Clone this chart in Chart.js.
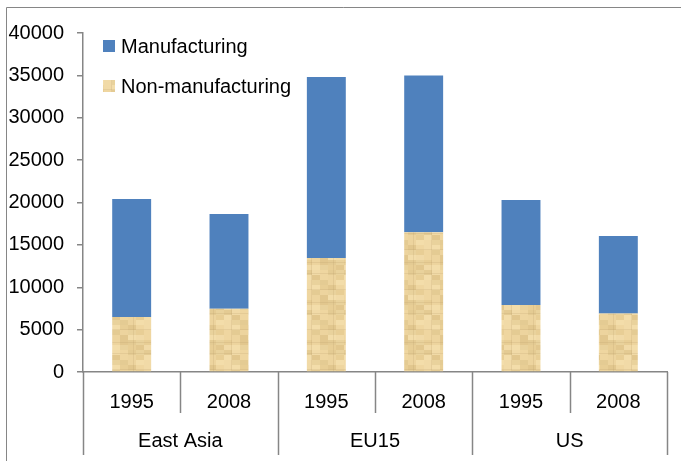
<!DOCTYPE html>
<html>
<head>
<meta charset="utf-8">
<script src="https://cdn.jsdelivr.net/npm/chart.js@4"></script>
<style>
    body { margin: 0; background: #fff; }
    #wrap { width: 681px; height: 461px; }
</style>
</head>
<body>
<div id="wrap"><canvas id="chart" width="681" height="461"></canvas></div>
<script>
// values
const regions = ['East Asia', 'EU15', 'US'];
const years = ['1995', '2008'];
const nonManufacturing = [6500, 7450, 13450, 16500, 7900, 6900];
const manufacturing = [13900, 11200, 21350, 18500, 12400, 9150];
const yTicks = [0, 5000, 10000, 15000, 20000, 25000, 30000, 35000, 40000];

const labels = [];
regions.forEach(() => years.forEach(y => labels.push(y)));

const FONT = 'Liberation Sans';
const LINE = '#868686';
const BLUE = '#4F81BD';

// papyrus-like texture for the non-manufacturing part
function makeTexture() {
    const c = document.createElement('canvas');
    c.width = 40; c.height = 40;
    const g = c.getContext('2d');
    const shades = ['#EDD49E', '#E8CE95', '#F1DAA7', '#E4CB93', '#EFD6A0', '#E9D29C', '#F3DDAA', '#E2C78E'];
    const order = [3, 0, 6, 2, 5, 1, 7, 4, 2, 6, 0, 5, 1, 4, 3, 7, 6, 2, 4, 0, 7, 3, 5, 1, 0, 5, 1, 7, 2, 6, 4, 3, 5, 3, 2, 4, 0, 1, 6, 7];
    let k = 0;
    for (let y = 0; y < 40; y += 5) {
        for (let x = 0; x < 40; x += 8) {
            g.fillStyle = shades[order[k % order.length]];
            g.fillRect(x, y, 8, 5);
            k++;
        }
    }
    g.fillStyle = 'rgba(175,150,100,0.18)';
    [[0, 9, 40, 1], [0, 22, 40, 1], [0, 33, 40, 1], [13, 0, 1, 40], [31, 0, 1, 40]]
        .forEach(r => g.fillRect(r[0], r[1], r[2], r[3]));
    return c;
}
const ctx = document.getElementById('chart').getContext('2d');
const texture = ctx.createPattern(makeTexture(), 'repeat');

const extras = {
    id: 'extras',
    afterDraw(chart) {
        const c = chart.ctx;
        const x = chart.scales.x;
        const area = chart.chartArea;
        const half = (x.getPixelForValue(1) - x.getPixelForValue(0)) / 2;

        c.save();
        c.strokeStyle = LINE;
        c.lineWidth = 1.5;
        // category separators (two levels)
        for (let i = 0; i <= labels.length; i++) {
            const px = Math.round(x.getPixelForValue(i) - half) + 0.5;
            const end = (i % years.length === 0) ? 455 : 413;
            c.beginPath();
            c.moveTo(px, area.bottom);
            c.lineTo(px, end);
            c.stroke();
        }
        // region labels
        c.fillStyle = '#000';
        c.font = '20px "' + FONT + '"';
        c.textAlign = 'center';
        c.textBaseline = 'middle';
        regions.forEach((r, k) => {
            const a = x.getPixelForValue(k * years.length) - half;
            const b = x.getPixelForValue((k + 1) * years.length - 1) + half;
            c.fillText(r, (a + b) / 2, 441);
        });

        // legend (top item first)
        const items = chart.data.datasets.slice().reverse();
        c.textAlign = 'left';
        items.forEach((ds, k) => {
            const cy = 46 + k * 40;
            c.fillStyle = ds.backgroundColor;
            c.fillRect(103, cy - 6, 12, 12);
            c.fillStyle = '#000';
            c.fillText(ds.label, 121, cy + 1);
        });

        // outer frame
        c.lineWidth = 1;
        c.beginPath();
        c.moveTo(6.5, 461);
        c.lineTo(6.5, 7.5);
        c.lineTo(681, 7.5);
        c.stroke();
        c.restore();
    }
};

new Chart(ctx, {
    type: 'bar',
    data: {
        labels: labels,
        datasets: [
            {
                label: 'Non-manufacturing',
                data: nonManufacturing,
                backgroundColor: texture,
                barPercentage: 0.4,
                categoryPercentage: 1
            },
            {
                label: 'Manufacturing',
                data: manufacturing,
                backgroundColor: BLUE,
                barPercentage: 0.4,
                categoryPercentage: 1
            }
        ]
    },
    options: {
        responsive: false,
        animation: false,
        layout: { padding: { top: 33, right: 14, bottom: 0, left: 0 } },
        plugins: {
            legend: { display: false },
            tooltip: { enabled: false }
        },
        scales: {
            x: {
                stacked: true,
                grid: { display: false },
                border: { color: LINE, width: 1.5 },
                ticks: {
                    color: '#000',
                    font: { family: FONT, size: 20 },
                    padding: 10,
                    maxRotation: 0
                },
                afterFit(scale) { scale.height = 89; }
            },
            y: {
                stacked: true,
                min: 0,
                max: 40000,
                afterBuildTicks(scale) { scale.ticks = yTicks.map(v => ({ value: v })); },
                grid: { drawOnChartArea: false, tickLength: 6, color: LINE, lineWidth: 1.5 },
                border: { color: LINE, width: 1.5 },
                ticks: {
                    color: '#000',
                    font: { family: FONT, size: 20 },
                    padding: 13,
                    callback: v => String(v)
                },
                afterFit(scale) { scale.width = 83; }
            }
        }
    },
    plugins: [extras]
});
</script>
</body>
</html>
